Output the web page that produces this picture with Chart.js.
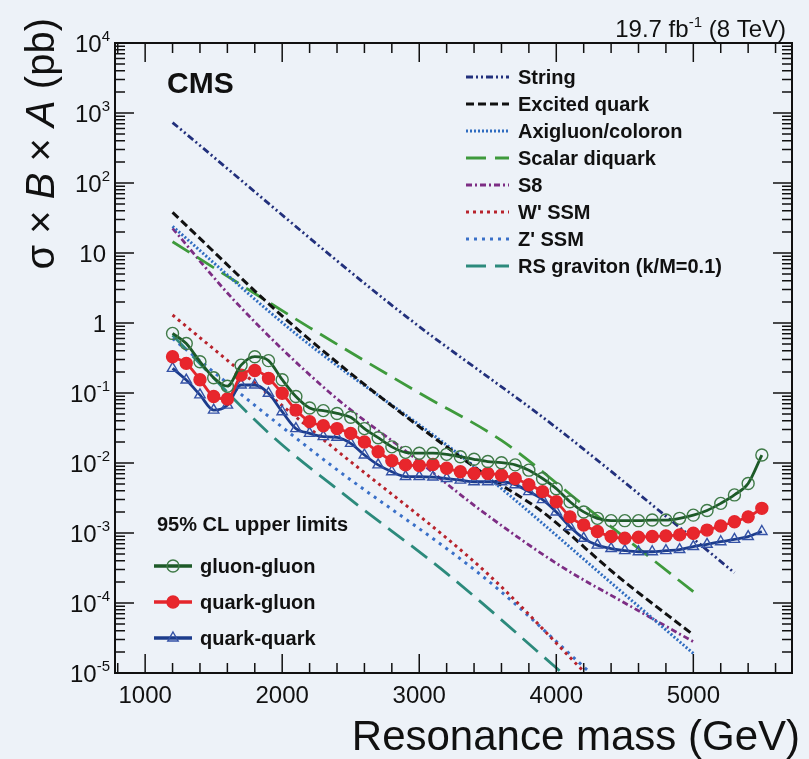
<!DOCTYPE html>
<html>
<head>
<meta charset="utf-8">
<script src="https://cdn.jsdelivr.net/npm/chart.js@4.4.1/dist/chart.umd.min.js"></script>
<style>
  html, body { margin: 0; padding: 0; background: #edf2f8; }
  canvas { display: block; }
</style>
</head>
<body>
<canvas id="limits" width="809" height="759"></canvas>
<script>
// resonance masses (GeV) for the observed limits
const masses = [1200,1300,1400,1500,1600,1700,1800,1900,2000,2100,2200,2300,2400,2500,2600,2700,2800,2900,3000,3100,
  3200,3300,3400,3500,3600,3700,3800,3900,4000,4100,4200,4300,4400,4500,4600,4700,4800,4900,5000,5100,5200,5300,5400,5500];

// 95% CL upper limits, sigma x B x A (pb)
const ggLimit = [0.71,0.51,0.28,0.165,0.125,0.25,0.33,0.29,0.155,0.089,0.061,0.056,0.051,0.045,0.031,0.023,0.017,0.0142,0.0138,0.0138,
  0.0133,0.0123,0.0113,0.0105,0.0101,0.0094,0.0079,0.0060,0.0043,0.0028,0.0020,0.00162,0.0015,0.0015,0.0015,0.00153,0.00153,0.00162,0.0018,0.0021,
  0.00265,0.0035,0.0051,0.013];
const qgLimit = [0.33,0.265,0.155,0.089,0.082,0.18,0.21,0.162,0.099,0.057,0.039,0.034,0.031,0.0265,0.020,0.0145,0.0108,0.0094,0.0092,0.0095,
  0.0084,0.0075,0.0071,0.0071,0.0067,0.0060,0.0049,0.0039,0.0028,0.0017,0.0013,0.00105,0.00089,0.00084,0.00087,0.00089,0.00091,0.00094,0.00099,0.0011,
  0.00126,0.00145,0.0017,0.00225];
const qqLimit = [0.225,0.153,0.094,0.057,0.067,0.13,0.13,0.099,0.054,0.031,0.0265,0.0238,0.0233,0.0191,0.013,0.0094,0.0075,0.0064,0.0064,0.0063,
  0.0060,0.0057,0.0054,0.0054,0.0054,0.0049,0.0039,0.0030,0.0020,0.00123,0.00084,0.00067,0.0006,0.00056,0.00054,0.00054,0.00056,0.00058,0.00064,0.00069,
  0.00075,0.00081,0.00089,0.00105];

// model cross sections (pb)
const stringMass = [1200, 2850, 4000, 4900, 5300];
const stringXsec = [730, 1.5, 0.032, 0.0012, 0.00027];
const excitedMass = [1200, 2100, 3450, 3900, 4450, 5000];
const excitedXsec = [38, 0.85, 0.0075, 0.002, 0.00024, 0.000035];
const axigluonMass = [1200, 2100, 3400, 4450, 5000];
const axigluonXsec = [24, 0.7, 0.009, 0.00016, 0.000019];
const diquarkMass = [1200, 2200, 3000, 3600, 4200, 5000];
const diquarkXsec = [14.5, 0.86, 0.10, 0.021, 0.0025, 0.000145];
const s8Mass = [1200, 1650, 2350, 2950, 3450, 4050, 4500, 5000];
const s8Xsec = [22.5, 2.1, 0.1, 0.0125, 0.0021, 0.00032, 0.0001, 0.000028];
const wprimeMass = [1200, 2350, 3500, 4200];
const wprimeXsec = [1.3, 0.018, 0.00026, 0.0000105];
const zprimeMass = [1200, 1750, 2350, 3500, 4250];
const zprimeXsec = [0.6, 0.08, 0.0095, 0.00021, 0.00001];
const rsMass = [1200, 1900, 2500, 3200, 4100];
const rsXsec = [0.67, 0.027, 0.003, 0.000265, 0.000008];

// axis ticks
const xTicks = [1000, 2000, 3000, 4000, 5000];
const yTicks = [1e4, 1e3, 1e2, 10, 1, 1e-1, 1e-2, 1e-3, 1e-4, 1e-5];
const yTickLabels = [['10','4'],['10','3'],['10','2'],['10',''],['1',''],['10','-1'],['10','-2'],['10','-3'],['10','-4'],['10','-5']];

const FONT = '"Liberation Sans", Arial, Helvetica, sans-serif';
const pts = (xs, ys) => xs.map((x, i) => ({ x: x, y: ys[i] }));

function limitSet(label, ys, line, marker, fill, style, r) {
  return {
    label: label, data: pts(masses, ys), kind: 'limit',
    borderColor: line, borderWidth: 2.8, cubicInterpolationMode: 'monotone',
    pointStyle: style, pointRadius: r, pointBorderWidth: 1.4,
    pointBorderColor: marker, pointBackgroundColor: fill, fill: false
  };
}
function modelSet(label, xs, ys, color, dash, width) {
  return {
    label: label, data: pts(xs, ys), kind: 'model',
    borderColor: color, borderWidth: width || 2.8, borderDash: dash,
    pointRadius: 0, cubicInterpolationMode: 'monotone', fill: false
  };
}

const datasets = [
  limitSet('gluon-gluon', ggLimit, '#1d5a28', '#3f7a47', 'rgba(0,0,0,0)', 'circle', 6),
  limitSet('quark-gluon', qgLimit, '#e4262c', '#e4262c', '#e8262c', 'circle', 6),
  limitSet('quark-quark', qqLimit, '#1c3c8c', '#3452a6', 'rgba(0,0,0,0)', 'triangle', 6),
  modelSet('String', stringMass, stringXsec, '#22307c', [7,3,2,3,2,3]),
  modelSet('Excited quark', excitedMass, excitedXsec, '#111111', [8,4], 3),
  modelSet('Axigluon/coloron', axigluonMass, axigluonXsec, '#2f6cc0', [2,2], 3),
  modelSet('Scalar diquark', diquarkMass, diquarkXsec, '#3e9a3c', [20,9]),
  modelSet('S8', s8Mass, s8Xsec, '#7d2d84', [6,3,2,3]),
  modelSet("W' SSM", wprimeMass, wprimeXsec, '#b8232c', [3,4], 3),
  modelSet("Z' SSM", zprimeMass, zprimeXsec, '#3a70c8', [3,5], 3),
  modelSet('RS graviton (k/M=0.1)', rsMass, rsXsec, '#2c8a7c', [20,9])
];

// ROOT-like frame, inside ticks, labels, legends and texts
const decorations = {
  id: 'decorations',
  beforeDraw(chart) {
    const ctx = chart.ctx;
    ctx.save();
    ctx.fillStyle = '#edf2f8';
    ctx.fillRect(0, 0, chart.width, chart.height);
    ctx.restore();
  },
  afterDatasetsDraw(chart) {
    const ctx = chart.ctx, a = chart.chartArea;
    const xs = chart.scales.x, ys = chart.scales.y;
    ctx.save();
    ctx.strokeStyle = '#111';
    ctx.lineWidth = 2;
    ctx.setLineDash([]);
    ctx.strokeRect(a.left, a.top, a.right - a.left, a.bottom - a.top);

    // x ticks: majors every 1000, minors every 200
    ctx.lineWidth = 1.5;
    ctx.beginPath();
    for (let m = 800; m <= 5600; m += 200) {
      const px = xs.getPixelForValue(m);
      const len = (m % 1000 === 0) ? 19 : 10;
      ctx.moveTo(px, a.bottom); ctx.lineTo(px, a.bottom - len);
      ctx.moveTo(px, a.top); ctx.lineTo(px, a.top + len);
    }
    // y ticks: decades + minors
    for (let e = -5; e <= 4; e++) {
      for (let k = 1; k <= 9; k++) {
        const v = k * Math.pow(10, e);
        if (v > 1e4 * 1.0001) continue;
        const py = ys.getPixelForValue(v);
        const len = k === 1 ? 19 : 10;
        ctx.moveTo(a.left, py); ctx.lineTo(a.left + len, py);
        ctx.moveTo(a.right, py); ctx.lineTo(a.right - len, py);
      }
    }
    ctx.stroke();

    // tick labels
    ctx.fillStyle = '#111';
    ctx.textBaseline = 'alphabetic';
    ctx.font = '24px ' + FONT;
    ctx.textAlign = 'center';
    xTicks.forEach(v => ctx.fillText(String(v), xs.getPixelForValue(v), 703));
    yTicks.forEach((v, i) => {
      const py = ys.getPixelForValue(v);
      const base = yTickLabels[i][0], exp = yTickLabels[i][1];
      ctx.textAlign = 'left';
      ctx.font = '24px ' + FONT;
      const wb = ctx.measureText(base).width;
      ctx.font = '15px ' + FONT;
      const we = exp ? ctx.measureText(exp).width : 0;
      const right = exp ? 110 : 106;
      const x0 = right - wb - we;
      ctx.font = '24px ' + FONT;
      ctx.fillText(base, x0, py + 9);
      if (exp) {
        ctx.font = '15px ' + FONT;
        ctx.fillText(exp, x0 + wb, py - 2);
      }
    });

    // axis titles
    ctx.textAlign = 'right';
    ctx.font = '42px ' + FONT;
    ctx.fillText('Resonance mass (GeV)', 800, 750);

    ctx.save();
    ctx.translate(54, 18);
    ctx.rotate(-Math.PI / 2);
    const parts = [['σ × ', ''], ['B', 'italic '], [' × ', ''], ['A', 'italic '], [' (pb)', '']];
    let total = 0;
    parts.forEach(p => { ctx.font = p[1] + '40px ' + FONT; total += ctx.measureText(p[0]).width; });
    let cx = -total;
    ctx.textAlign = 'left';
    parts.forEach(p => { ctx.font = p[1] + '40px ' + FONT; ctx.fillText(p[0], cx, 0); cx += ctx.measureText(p[0]).width; });
    ctx.restore();

    // lumi label
    ctx.textAlign = 'left';
    ctx.font = '24px ' + FONT;
    const lumiA = '19.7 fb', lumiB = ' (8 TeV)';
    const wA = ctx.measureText(lumiA).width, wB = ctx.measureText(lumiB).width;
    ctx.font = '15px ' + FONT;
    const wS = ctx.measureText('-1').width;
    let lx = 786 - wA - wS - wB;
    ctx.font = '24px ' + FONT;
    ctx.fillText(lumiA, lx, 37);
    ctx.font = '15px ' + FONT;
    ctx.fillText('-1', lx + wA, 27);
    ctx.font = '24px ' + FONT;
    ctx.fillText(lumiB, lx + wA + wS, 37);

    // CMS
    ctx.font = 'bold 30px ' + FONT;
    ctx.fillText('CMS', 167, 93);

    // model legend
    ctx.font = 'bold 20px ' + FONT;
    chart.data.datasets.filter(d => d.kind === 'model').forEach((d, i) => {
      const y = 77 + i * 27;
      ctx.strokeStyle = d.borderColor;
      ctx.lineWidth = d.borderWidth;
      ctx.setLineDash(d.borderDash);
      ctx.beginPath(); ctx.moveTo(466, y); ctx.lineTo(509, y); ctx.stroke();
      ctx.setLineDash([]);
      ctx.fillStyle = '#111';
      ctx.fillText(d.label, 518, y + 7);
    });

    // limits legend
    ctx.fillStyle = '#111';
    ctx.fillText('95% CL upper limits', 157, 531);
    chart.data.datasets.filter(d => d.kind === 'limit').forEach((d, i) => {
      const y = 566 + i * 36;
      ctx.strokeStyle = d.borderColor;
      ctx.lineWidth = d.borderWidth + 0.6;
      ctx.beginPath(); ctx.moveTo(154, y); ctx.lineTo(192, y); ctx.stroke();
      ctx.fillStyle = d.pointBackgroundColor;
      ctx.strokeStyle = d.pointBorderColor;
      ctx.lineWidth = d.pointBorderWidth;
      Chart.helpers.drawPoint(ctx, { pointStyle: d.pointStyle, radius: d.pointRadius, rotation: 0, borderWidth: d.pointBorderWidth }, 173, y);
      ctx.fillStyle = '#111';
      ctx.fillText(d.label, 200, y + 7);
    });
    ctx.restore();
  }
};

new Chart(document.getElementById('limits'), {
  type: 'line',
  data: { datasets: datasets },
  options: {
    responsive: false,
    animation: false,
    devicePixelRatio: 1,
    layout: { padding: { left: 115, right: 17, top: 43, bottom: 86 } },
    plugins: { legend: { display: false }, tooltip: { enabled: false } },
    scales: {
      x: { type: 'linear', min: 780, max: 5720, display: false },
      y: { type: 'logarithmic', min: 1e-5, max: 1e4, display: false }
    }
  },
  plugins: [decorations]
});
</script>
</body>
</html>
